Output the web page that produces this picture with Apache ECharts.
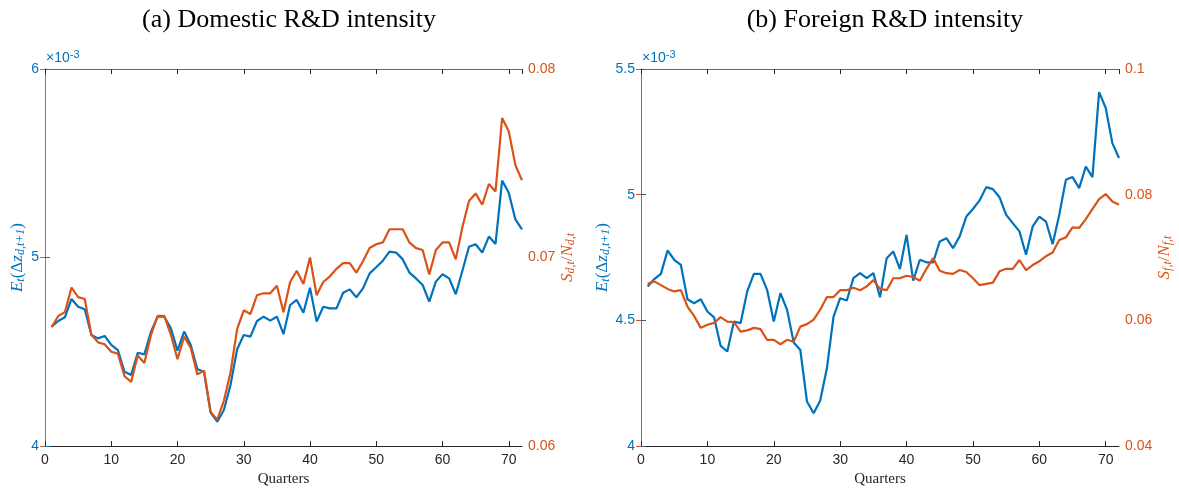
<!DOCTYPE html>
<html>
<head>
<meta charset="utf-8">
<script src="https://cdn.jsdelivr.net/npm/echarts@6/dist/echarts.min.js"></script>
<style>
  html, body { margin: 0; padding: 0; background: #fff; }
  #chart { width: 1179px; height: 489px; }
</style>
</head>
<body>
<div id="chart"></div>
<script>
// quarter index 1..72
var quarters = [];
for (var i = 1; i <= 72; i++) quarters.push(i);

// (a) domestic: expected R&D growth (x1e-3) and share
var domE = [4.633, 4.663, 4.683, 4.780, 4.739, 4.725, 4.589, 4.571, 4.584, 4.536,
  4.509, 4.394, 4.377, 4.495, 4.486, 4.607, 4.686, 4.686, 4.624, 4.506,
  4.607, 4.536, 4.407, 4.394, 4.177, 4.129, 4.191, 4.324, 4.513, 4.589,
  4.580, 4.663, 4.686, 4.665, 4.686, 4.594, 4.748, 4.775, 4.707, 4.840,
  4.660, 4.739, 4.730, 4.730, 4.813, 4.831, 4.789, 4.836, 4.916, 4.948,
  4.983, 5.031, 5.026, 4.990, 4.920, 4.889, 4.854, 4.766, 4.872, 4.911,
  4.889, 4.805, 4.930, 5.057, 5.070, 5.026, 5.111, 5.072, 5.408, 5.344,
  5.202, 5.149];
var domS = [0.0663, 0.0669, 0.0671, 0.0684, 0.0679, 0.0678, 0.0659, 0.0655, 0.0654, 0.0650,
  0.0649, 0.0637, 0.0634, 0.0648, 0.0644, 0.0659, 0.0669, 0.0669, 0.0659, 0.0646,
  0.0658, 0.0652, 0.0638, 0.0640, 0.0618, 0.0614, 0.0624, 0.0639, 0.0662, 0.0672,
  0.0670, 0.0680, 0.0681, 0.0681, 0.0685, 0.0671, 0.0687, 0.0693, 0.0686, 0.0700,
  0.0680, 0.0687, 0.0690, 0.0694, 0.0697, 0.0697, 0.0692, 0.0698, 0.0705, 0.0707,
  0.0708, 0.0715, 0.0715, 0.0715, 0.0708, 0.0705, 0.0704, 0.0691, 0.0704, 0.0708,
  0.0708, 0.0699, 0.0716, 0.0730, 0.0734, 0.0728, 0.0739, 0.0735, 0.0774, 0.0767,
  0.0749, 0.0741];

// (b) foreign
var forE = [4.635, 4.664, 4.685, 4.778, 4.741, 4.721, 4.584, 4.568, 4.584, 4.535,
  4.512, 4.398, 4.376, 4.495, 4.489, 4.615, 4.685, 4.685, 4.621, 4.495,
  4.608, 4.542, 4.412, 4.382, 4.177, 4.130, 4.181, 4.309, 4.515, 4.588,
  4.579, 4.668, 4.688, 4.668, 4.688, 4.592, 4.747, 4.774, 4.704, 4.840,
  4.658, 4.741, 4.731, 4.731, 4.814, 4.827, 4.787, 4.834, 4.913, 4.943,
  4.977, 5.030, 5.022, 4.990, 4.920, 4.887, 4.854, 4.761, 4.874, 4.913,
  4.893, 4.803, 4.920, 5.059, 5.070, 5.026, 5.112, 5.070, 5.408, 5.345,
  5.205, 5.146];
var forS = [0.0658, 0.0662, 0.0656, 0.0650, 0.0646, 0.0648, 0.0622, 0.0607, 0.0588, 0.0593,
  0.0596, 0.0605, 0.0598, 0.0597, 0.0582, 0.0584, 0.0588, 0.0586, 0.0569, 0.0569,
  0.0562, 0.0569, 0.0566, 0.0590, 0.0594, 0.0601, 0.0617, 0.0637, 0.0637, 0.0648,
  0.0648, 0.0652, 0.0648, 0.0654, 0.0664, 0.0650, 0.0648, 0.0667, 0.0667, 0.0671,
  0.0669, 0.0663, 0.0682, 0.0699, 0.0679, 0.0675, 0.0674, 0.0680, 0.0677, 0.0667,
  0.0656, 0.0658, 0.0660, 0.0678, 0.0682, 0.0682, 0.0696, 0.0680, 0.0688, 0.0694,
  0.0702, 0.0708, 0.0728, 0.0732, 0.0748, 0.0747, 0.0761, 0.0777, 0.0793, 0.0801,
  0.0789, 0.0784];

var BLUE = '#0072BD';
var ORANGE = '#D95319';
var GRAY = '#262626';
var sans = 'Liberation Sans';
var serif = 'Liberation Serif';

function pairs(xs, ys) {
  return xs.map(function (x, k) { return [x, ys[k]]; });
}
function trim(v) {
  return String(+v.toFixed(3));
}

var mathRich = {
  i: { fontFamily: serif, fontStyle: 'italic', fontSize: 17 },
  n: { fontFamily: serif, fontSize: 17 },
  s: { fontFamily: serif, fontStyle: 'italic', fontSize: 12, padding: [7, 0, 0, 0] }
};

function xAxes(gi) {
  return [
    {
      type: 'value', gridIndex: gi, min: 0, max: 72, interval: 10,
      name: 'Quarters', nameLocation: 'middle', nameGap: 21,
      nameTextStyle: { fontFamily: serif, fontSize: 15, color: GRAY },
      axisLine: { lineStyle: { color: GRAY, width: 1 } },
      axisTick: { inside: true, length: 5, lineStyle: { color: GRAY } },
      axisLabel: { fontFamily: sans, fontSize: 14, color: GRAY, margin: 7,
        showMaxLabel: false },
      splitLine: { show: false }
    },
    {
      type: 'value', gridIndex: gi, min: 0, max: 72, interval: 10, position: 'top',
      axisLine: { lineStyle: { color: '#666', width: 1 } },
      axisTick: { inside: true, length: 5, lineStyle: { color: GRAY } },
      axisLabel: { show: false },
      splitLine: { show: false }
    }
  ];
}

function yAxis(gi, pos, min, max, step, color, lineColor, name) {
  return {
    type: 'value', gridIndex: gi, position: pos, min: min, max: max, interval: step,
    name: name, nameLocation: 'middle', nameRotate: 90, nameGap: pos === 'left' ? 14 : 12,
    nameTextStyle: { color: color, rich: mathRich },
    axisLine: { show: true, lineStyle: { color: lineColor, width: 1 } },
    axisTick: { show: true, inside: true, length: 5, lineStyle: { color: lineColor } },
    axisLabel: { fontFamily: sans, fontSize: 14, color: color, margin: 6,
      formatter: trim },
    splitLine: { show: false }
  };
}

function line(xi, yi, data, color) {
  return {
    type: 'line', xAxisIndex: xi, yAxisIndex: yi, data: data,
    showSymbol: false, lineStyle: { color: color, width: 2.2 },
    itemStyle: { color: color }, animation: false
  };
}

var nameEd = '{i|E}{s|t}{n|(Δ}{i|z}{s|d,t+1}{n|)}';
var nameSd = '{i|S}{s|d,t}{n|/}{i|N}{s|d,t}';
var nameSf = '{i|S}{s|f,t}{n|/}{i|N}{s|f,t}';

var expRich = {
  b: { fontFamily: sans, fontSize: 14, fill: BLUE },
  p: { fontFamily: sans, fontSize: 11, fill: BLUE, padding: [0, 0, 7, 0] }
};

var chart = echarts.init(document.getElementById('chart'));
chart.setOption({
  backgroundColor: '#fff',
  animation: false,
  title: [
    { text: '(a) Domestic R&D intensity', left: 284, top: 2, textAlign: 'center',
      textStyle: { fontFamily: serif, fontSize: 26, fontWeight: 'normal', color: '#000' } },
    { text: '(b) Foreign R&D intensity', left: 880, top: 2, textAlign: 'center',
      textStyle: { fontFamily: serif, fontSize: 26, fontWeight: 'normal', color: '#000' } }
  ],
  grid: [
    { left: 45, top: 69, width: 477, height: 377, outerBoundsMode: 'none' },
    { left: 641, top: 69, width: 478, height: 377, outerBoundsMode: 'none' }
  ],
  xAxis: xAxes(0).concat(xAxes(1)),
  yAxis: [
    yAxis(0, 'left', 4, 6, 1, BLUE, BLUE, nameEd),
    yAxis(0, 'right', 0.06, 0.08, 0.01, ORANGE, '#B06A50', nameSd),
    yAxis(1, 'left', 4, 5.5, 0.5, BLUE, BLUE, nameEd),
    yAxis(1, 'right', 0.04, 0.1, 0.02, ORANGE, ORANGE, nameSf)
  ],
  graphic: [
    { type: 'text', left: 46, top: 49, style: { text: '{b|×10}{p|-3}', rich: expRich } },
    { type: 'text', left: 642, top: 49, style: { text: '{b|×10}{p|-3}', rich: expRich } }
  ],
  series: [
    line(0, 0, pairs(quarters, domE), BLUE),
    line(0, 1, pairs(quarters, domS), ORANGE),
    line(2, 2, pairs(quarters, forE), BLUE),
    line(2, 3, pairs(quarters, forS), ORANGE)
  ]
});
</script>
</body>
</html>
